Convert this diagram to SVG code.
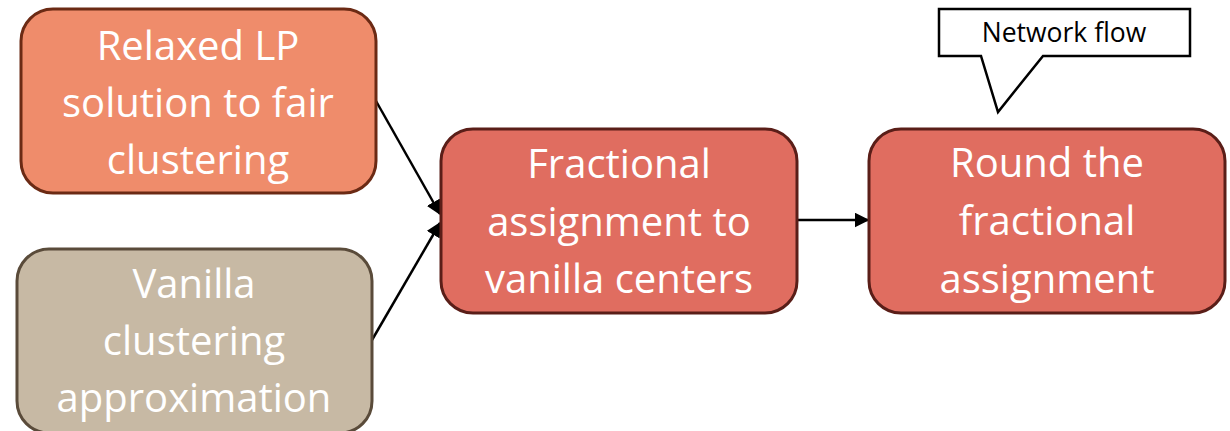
<svg xmlns="http://www.w3.org/2000/svg" width="1230" height="431" viewBox="0 0 1230 431">
  <style>
    .box { stroke-width: 3; }
    .lbl { font-family: "Open Sans", "Liberation Sans", sans-serif; font-size: 40px; fill: #ffffff; text-anchor: middle; }
    .call { font-family: "Open Sans", "Liberation Sans", sans-serif; font-size: 26.5px; fill: #000000; text-anchor: middle; }
    .edge { stroke: #000000; stroke-width: 2.5; fill: none; marker-end: url(#arrow); }
  </style>
  <defs>
    <marker id="arrow" viewBox="0 0 10 10" refX="9" refY="5" markerWidth="6" markerHeight="6" orient="auto" markerUnits="strokeWidth">
      <path d="M0,0 L10,5 L0,10 z" fill="#000000"/>
    </marker>
  </defs>
  <rect width="1230" height="431" fill="#ffffff"/>

  <g id="connectors">
    <line class="edge" x1="376" y1="101" x2="440" y2="214"/>
    <line class="edge" x1="372" y1="340" x2="440" y2="223"/>
    <line class="edge" x1="797" y1="220" x2="868" y2="220"/>
  </g>

  <g id="node-relaxed-lp">
    <rect class="box" x="21" y="9" width="355" height="184" rx="32" fill="#EF8C6B" stroke="#6B2A14"/>
    <text class="lbl" x="198" y="60">Relaxed LP</text>
    <text class="lbl" x="198" y="117">solution to fair</text>
    <text class="lbl" x="198" y="174">clustering</text>
  </g>

  <g id="node-vanilla">
    <rect class="box" x="17" y="249" width="355" height="184" rx="32" fill="#C7B9A4" stroke="#5A4B3A"/>
    <text class="lbl" x="194" y="298">Vanilla</text>
    <text class="lbl" x="194" y="355">clustering</text>
    <text class="lbl" x="194" y="412">approximation</text>
  </g>

  <g id="node-fractional">
    <rect class="box" x="441" y="129" width="356" height="184" rx="32" fill="#E06D60" stroke="#5A1E18"/>
    <text class="lbl" x="619" y="178">Fractional</text>
    <text class="lbl" x="619" y="236">assignment to</text>
    <text class="lbl" x="619" y="293">vanilla centers</text>
  </g>

  <g id="node-round">
    <rect class="box" x="869" y="129" width="356" height="184" rx="32" fill="#E06D60" stroke="#5A1E18"/>
    <text class="lbl" x="1047" y="177">Round the</text>
    <text class="lbl" x="1047" y="235">fractional</text>
    <text class="lbl" x="1047" y="293">assignment</text>
  </g>

  <g id="callout-network-flow">
    <path d="M939,9 H1190 V56 H1043 L998,112 L981,56 H939 Z" fill="#ffffff" stroke="#000000" stroke-width="2.5" stroke-linejoin="miter"/>
    <text class="call" x="1064" y="42">Network flow</text>
  </g>
</svg>
